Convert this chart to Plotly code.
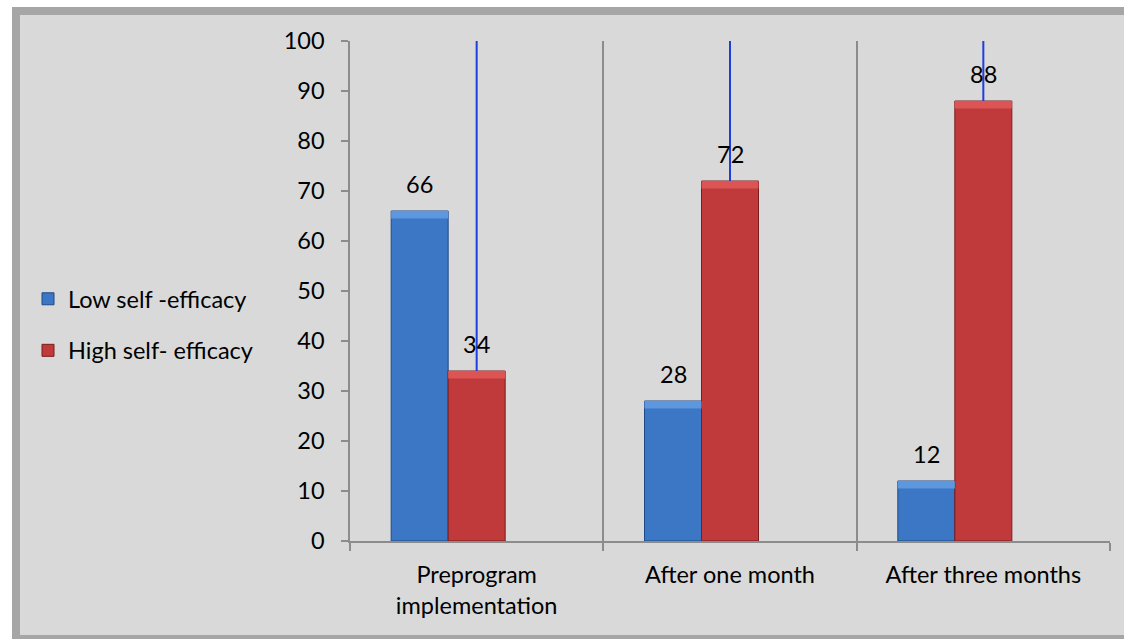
import plotly.graph_objects as go

# Survey results: share of participants by self-efficacy level (%)
categories = ["Preprogram<br>implementation", "After one month", "After three months"]
low_efficacy = [66, 28, 12]
high_efficacy = [34, 72, 88]
series_names = ["Low self -efficacy", "High self- efficacy"]
y_ticks = list(range(0, 101, 10))

# Figure geometry
W, H = 1124, 639
ML, MR, MT, MB = 350, 14, 41, 98
FONT = "Lato"
TEXT_SIZE = 23.5

# Each category holds three bar slots (the third one is left empty)
SLOTS = 3
GAP = 0.325
BAR_W = (1 - GAP) / SLOTS
offsets = [-SLOTS / 2 * BAR_W, (1 - SLOTS / 2) * BAR_W]

# Height of the lighter bevel band on top of each bar, in axis units
BEVEL = 1.5

plot_w = W - ML - MR


def px_x(p):
    return (p - ML) / plot_w


def px_y(p):
    return (H - MB - p) / (H - MT - MB)


fig = go.Figure()

fig.add_trace(go.Bar(
    x=categories, y=low_efficacy, name=series_names[0], legendgroup="low",
    width=BAR_W, offset=offsets[0],
    marker=dict(color="#3b77c4", line=dict(color="#1f4a86", width=1)),
))

# High-efficacy bars carry a blue guide line up to the top of the scale
fig.add_trace(go.Bar(
    x=categories, y=high_efficacy, name=series_names[1], legendgroup="high",
    width=BAR_W, offset=offsets[1],
    marker=dict(color="#c03a3b", line=dict(color="#7a1c1c", width=1)),
    error_y=dict(
        type="data", symmetric=False,
        array=[y_ticks[-1] - v for v in high_efficacy],
        arrayminus=[0] * len(high_efficacy),
        width=0, thickness=2, color="#1f3fdc",
    ),
))

# Lighter bevel band on the top of every bar
for values, off, col in ((low_efficacy, offsets[0], "#5d98de"),
                         (high_efficacy, offsets[1], "#dc5454")):
    fig.add_trace(go.Bar(
        x=categories, y=[BEVEL] * len(values), base=[v - BEVEL for v in values],
        width=BAR_W, offset=off, showlegend=False, hoverinfo="skip",
        marker=dict(color=col, line=dict(width=0)),
    ))

# Value labels above the bars (category axis: positions by serial number)
annotations = []
for values, off in ((low_efficacy, offsets[0]), (high_efficacy, offsets[1])):
    for i, v in enumerate(values):
        annotations.append(dict(
            x=i + off + BAR_W / 2, y=v, xref="x", yref="y", text=str(v),
            showarrow=False, yshift=11, yanchor="bottom",
            font=dict(family=FONT, size=TEXT_SIZE, color="#000000"),
        ))

# Outer chart frame (grey border with light grey fill)
shapes = [dict(
    type="rect", xref="paper", yref="paper", layer="below",
    x0=px_x(16), x1=px_x(W + 4), y0=px_y(H), y1=px_y(11),
    line=dict(color="#a6a6a6", width=8), fillcolor="#d9d9d9",
)]

fig.update_layout(
    width=W, height=H,
    margin=dict(l=ML, r=MR, t=MT, b=MB),
    paper_bgcolor="#ffffff",
    plot_bgcolor="rgba(0,0,0,0)",
    barmode="group",
    font=dict(family=FONT, size=TEXT_SIZE, color="#000000"),
    showlegend=True,
    legend=dict(
        xref="container", yref="container", x=28 / W, y=1 - 277 / H,
        xanchor="left", yanchor="top", bgcolor="rgba(0,0,0,0)",
        tracegroupgap=18, traceorder="grouped",
        font=dict(family=FONT, size=TEXT_SIZE, color="#000000"),
    ),
    annotations=annotations,
    shapes=shapes,
)

fig.update_xaxes(
    type="category", range=[-0.5, len(categories) - 0.5],
    tickson="boundaries", ticks="outside", ticklen=8,
    tickcolor="#8c8c8c", tickwidth=1.5,
    showline=True, linecolor="#8c8c8c", linewidth=1.5,
    showgrid=True, gridcolor="#8c8c8c", gridwidth=1.5,
    tickfont=dict(family=FONT, size=TEXT_SIZE, color="#000000"),
    ticklabelstandoff=12,
)
fig.update_yaxes(
    range=[0, 100], tickvals=y_ticks, ticks="outside", ticklen=7,
    tickcolor="#8c8c8c", tickwidth=1.5,
    showline=True, linecolor="#8c8c8c", linewidth=1.5,
    showgrid=False, zeroline=False,
    tickfont=dict(family=FONT, size=TEXT_SIZE, color="#000000"),
    ticklabelstandoff=12,
)

fig.write_html("out.html")
